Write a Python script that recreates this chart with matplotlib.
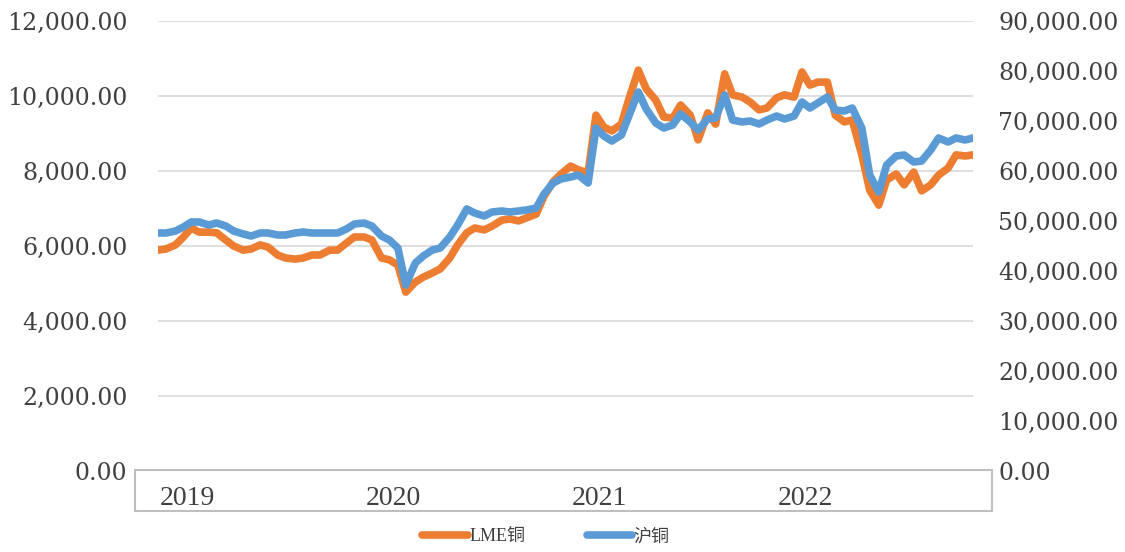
import matplotlib
matplotlib.use('Agg')
import matplotlib.pyplot as plt
import pandas as pd
from matplotlib.patches import Rectangle
from matplotlib.ticker import FuncFormatter
from matplotlib.font_manager import FontProperties

# semi-monthly samples, 2019-01 .. 2022-12
dates = pd.date_range('2019-01-01', periods=96, freq='SMS')

# LME铜 (left axis)
lme = [5890, 5920, 6030, 6240, 6480, 6370, 6370, 6350, 6160, 6000, 5890, 5920,
       6030, 5970, 5760, 5680, 5650, 5680, 5760, 5760, 5890, 5890, 6080, 6240,
       6240, 6160, 5680, 5630, 5490, 4770, 5040, 5170, 5280, 5390, 5680, 6030,
       6350, 6480, 6430, 6530, 6690, 6720, 6670, 6750, 6850, 7330, 7710, 7920,
       8130, 8030, 7950, 9490, 9170, 9070, 9250, 9950, 10690, 10190, 9890, 9440,
       9410, 9760, 9490, 8830, 9550, 9250, 10590, 10030, 9970, 9840, 9630, 9680,
       9950, 10030, 9970, 10640, 10290, 10370, 10370, 9490, 9310, 9360, 8430, 7490,
       7090, 7760, 7920, 7630, 7970, 7470, 7630, 7890, 8080, 8430, 8400, 8430]

# 沪铜 (right axis)
shfe = [47600, 47600, 48000, 48800, 49800, 49800, 49200, 49600, 49000, 48000, 47400, 47000,
        47600, 47600, 47200, 47200, 47600, 47800, 47600, 47600, 47600, 47600, 48400, 49400,
        49600, 49000, 47000, 46200, 44600, 37200, 41600, 43000, 44200, 44600, 46800, 49200,
        52400, 51600, 51000, 51800, 52000, 51800, 52000, 52200, 52600, 55400, 57600, 58400,
        58800, 59200, 57600, 68600, 67000, 66000, 67200, 71200, 75800, 72400, 69600, 68600,
        69200, 71400, 69800, 68200, 70400, 70600, 75200, 70200, 69800, 70000, 69400, 70200,
        71000, 70400, 71000, 73800, 72600, 73600, 74800, 72200, 72000, 72600, 68600, 59200,
        55800, 61200, 63000, 63200, 61800, 62000, 64200, 66600, 65800, 66600, 66200, 66600]

years = ['2019', '2020', '2021', '2022']

text_color = '#404040'
num_font = 'DejaVu Serif'

fig = plt.figure(figsize=(11.25, 5.52), dpi=100)
ax = fig.add_axes([158 / 1125, 1 - 471 / 552, 815 / 1125, 450 / 552])
ax2 = ax.twinx()

l1, = ax.plot(dates, lme, color='#ED7D31', lw=5.5, solid_joinstyle='round',
              solid_capstyle='round', label='LME铜')
l2, = ax2.plot(dates, shfe, color='#5B9BD5', lw=5.5, solid_joinstyle='round',
               solid_capstyle='round', label='沪铜')

ax.set_ylim(0, 12000)
ax2.set_ylim(0, 90000)
ax.set_yticks(range(0, 12001, 2000))
ax2.set_yticks(range(0, 90001, 10000))
fmt = FuncFormatter(lambda v, p: f'{v:,.2f}')
ax.yaxis.set_major_formatter(fmt)
ax2.yaxis.set_major_formatter(fmt)
ax.set_xlim(dates[0], dates[-1])

ax.yaxis.grid(True, color='#D9D9D9', lw=1.2)
ax.set_axisbelow(True)
for a in (ax, ax2):
    for s in a.spines.values():
        s.set_visible(False)

ax.tick_params(axis='y', length=0, pad=22, labelsize=17, labelcolor=text_color)
ax2.tick_params(axis='y', length=0, pad=18, labelsize=17, labelcolor=text_color)
for lab in ax.get_yticklabels() + ax2.get_yticklabels():
    lab.set_fontfamily(num_font)

ax.set_xticks([pd.Timestamp(f'{y}-02-22') for y in years])
ax.set_xticklabels(years)
ax.tick_params(axis='x', length=0, pad=11, labelsize=20, labelcolor=text_color)
for lab in ax.get_xticklabels():
    lab.set_fontfamily('Liberation Serif')

# category axis box
fig.add_artist(Rectangle((135 / 1125, 1 - 511 / 552), (992 - 135) / 1125, 41 / 552,
                         transform=fig.transFigure, fill=False, ec='#BFBFBF', lw=1.5))

fig.legend([l1, l2], ['LME铜', '沪铜'], loc='center',
           bbox_to_anchor=(546 / 1125, 1 - 537 / 552), ncol=2, frameon=False,
           handlelength=2.5, columnspacing=3.4, handletextpad=0.1,
           prop=FontProperties(family=['Liberation Serif', 'Noto Sans CJK SC'], size=13),
           labelcolor=text_color)

fig.savefig('out.png', dpi=100)
